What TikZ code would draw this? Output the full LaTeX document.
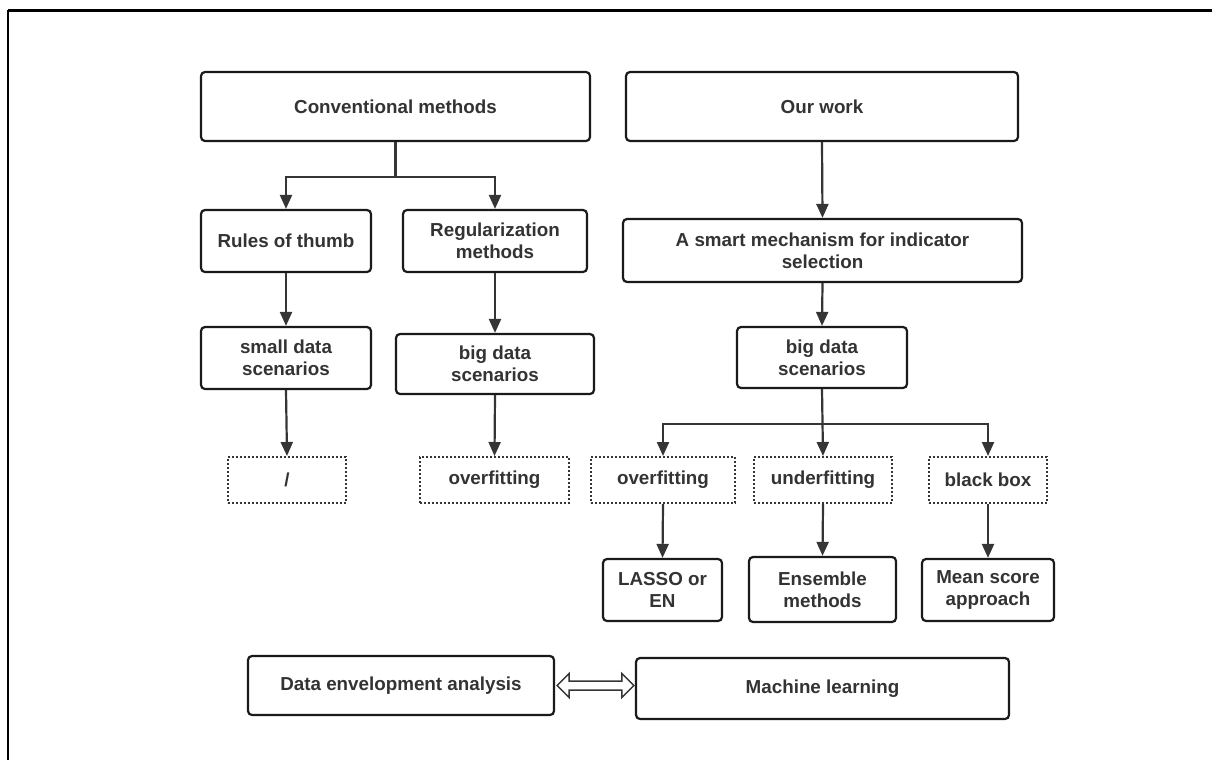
\documentclass[tikz,border=0pt]{standalone}
\usepackage{fontspec}
\setmainfont{Liberation Sans}
\usetikzlibrary{arrows.meta,calc}
\definecolor{boxline}{HTML}{1A1A1A}
\definecolor{txt}{HTML}{333333}
\definecolor{connc}{HTML}{353535}
\begin{document}
\begin{tikzpicture}[x=1pt,y=-1pt,
  base/.style={inner sep=0pt, align=center, text=txt,
    font=\fontsize{18.8}{22}\selectfont\bfseries, fill=white},
  solidbox/.style={base, draw=boxline, line width=2.2pt, rounded corners=4pt},
  dotbox/.style={base, draw=connc, line width=2pt, dash pattern=on 2pt off 2pt},
  sz/.style 2 args={minimum width=#1pt, minimum height=#2pt},
  arr/.style={draw=connc, line width=2.2pt, -{Triangle[width=12pt,length=14pt]}},
  trunk/.style={draw=connc, line width=2.2pt}
]
\useasboundingbox (0,0) rectangle (1212,760);
% frame
\draw[line width=3pt, black] (1212,11) -- (8,11);
\draw[line width=2.2pt, black] (8,10) -- (8,760);

% left column
\node[solidbox, sz={389}{69}] (conv) at (395.5,106.5) {Conventional methods};
\node[solidbox, sz={170}{62}] (rules) at (286,241) {Rules of thumb};
\node[solidbox, sz={184}{62}] (reg) at (495,241) {Regularization\\methods};
\node[solidbox, sz={170}{62}] (small) at (286,358) {small data\\scenarios};
\node[solidbox, sz={198}{60}] (bigL) at (495,364) {big data\\scenarios};
\node[dotbox, sz={118}{46}] (slash) at (287,480) {/};
\node[dotbox, sz={149}{46}] (overL) at (494.5,480) {overfitting};

% right column
\node[solidbox, sz={392}{69}] (our) at (822,106.5) {Our work};
\node[solidbox, sz={399}{63}] (smart) at (822.5,250.5) {A smart mechanism for indicator\\selection};
\node[solidbox, sz={170}{61}] (bigR) at (822,357.5) {big data\\scenarios};
\node[dotbox, sz={144}{46}] (overR) at (663,480) {overfitting};
\node[dotbox, sz={138}{46}] (under) at (823,480) {underfitting};
\node[dotbox, sz={118}{46}] (black) at (988,480) {black box};
\node[solidbox, sz={119}{62}] (lasso) at (662.5,590) {LASSO or\\EN};
\node[solidbox, sz={147}{65}] (ens) at (822.5,589.5) {Ensemble\\methods};
\node[solidbox, sz={132}{62}] (mean) at (988,590) {Mean score\\approach};

% bottom
\node[solidbox, sz={306}{59}] (dea) at (401,685.5) {Data envelopment analysis};
\node[solidbox, sz={373}{61}] (ml) at (822.5,688.5) {Machine learning};

% connectors left
\coordinate (jl) at ($(conv.south)+(0,35)$);
\draw[trunk] (conv.south) -- (jl);
\draw[arr] (jl) -| (rules.north);
\draw[arr] (jl) -| (reg.north);
\draw[arr] (rules.south) -- (small.north);
\draw[arr] (reg.south) -- (bigL.north);
\draw[arr] (small.south) -- (slash.north);
\draw[arr] (bigL.south) -- (overL.north);

% connectors right
\draw[arr] (our.south) -- (smart.north);
\draw[arr] (smart.south) -- (bigR.north);
\coordinate (jr) at ($(bigR.south)+(0,35)$);
\draw[arr] (bigR.south) -- (under.north);
\draw[arr] (jr) -| (overR.north);
\draw[arr] (jr) -| (black.north);
\draw[arr] (overR.south) -- (lasso.north);
\draw[arr] (under.south) -- (ens.north);
\draw[arr] (black.south) -- (mean.north);

% double open arrow
\coordinate (da) at ($(dea.east)+(2,0)$);
\coordinate (db) at ($(ml.west)+(-1,-3)$);
\draw[draw=connc, line width=1.5pt, fill=white, line join=miter]
  (da) -- ++(12,-12) -- ++(0,7.5)
  -- ($(db)+(-12,-4.5)$) -- ++(0,-7.5) -- (db) -- ++(-12,12) -- ++(0,-7.5)
  -- ($(da)+(12,4.5)$) -- ++(0,7.5) -- cycle;
\end{tikzpicture}
\end{document}
